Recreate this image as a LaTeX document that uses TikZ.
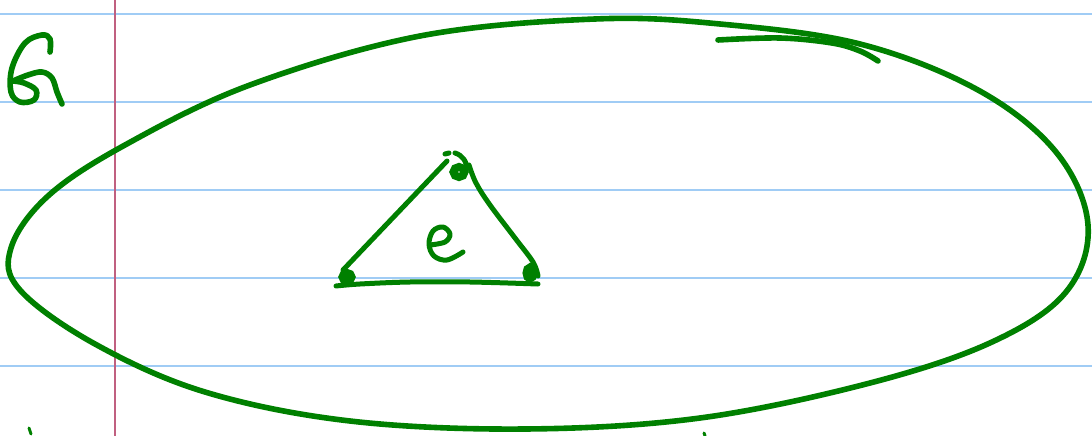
\documentclass[tikz,border=0pt]{standalone}
\begin{document}
\begin{tikzpicture}[x=1pt,y=-1pt,
  ink/.style={draw=inkgreen,line width=5.6pt,line cap=round,line join=round},
  thin ink/.style={draw=inkgreen,line width=5pt,line cap=round,line join=round},
  blob/.style={draw=inkgreen,line width=8pt},
  rule/.style={draw=ruleblue,line width=1.8pt},
  margin/.style={draw=marginred,line width=1.5pt}]
\definecolor{inkgreen}{RGB}{0,128,0}
\definecolor{ruleblue}{RGB}{160,204,245}
\definecolor{marginred}{RGB}{192,96,128}
\useasboundingbox[fill=white] (0,0) rectangle (1092,436);
% ruled lines
\foreach \yy in {14,102,190,278,366} \draw[rule] (0,\yy) -- (1092,\yy);
\draw[margin] (115,0) -- (115,436);
% big closed curve
\draw[ink] plot[smooth cycle,tension=0.6] coordinates {
 (595,19) (720,24) (860,44) (978,90) (1056,152) (1088,225) (1066,292)
 (992,342) (870,383) (700,418) (525,429) (350,421) (205,392) (95,344)
 (20,290) (11,248) (48,196) (125,145) (250,85) (420,36)};
% arrow hook
\draw[ink] plot[smooth,tension=0.6] coordinates {(718,40) (780,38) (832,43) (860,51) (878,61)};
% letter G
\draw[ink] plot[smooth,tension=0.6] coordinates {(50,52) (50,39) (42,35) (25,43) (12,68) (11,92) (20,102) (34,100) (36,90) (24,83) (13,81)};
\draw[ink] plot[smooth,tension=0.6] coordinates {(13,81) (28,75) (42,72) (52,78) (57,92) (62,104)};
% triangle
\coordinate (t) at (459,172);
\coordinate (l) at (347,277);
\coordinate (r) at (530,273);
\draw[blob] (t) circle[x radius=5.5pt,y radius=5pt];
\draw[blob] (l) circle[x radius=4.5pt,y radius=4pt];
\draw[blob] (r) circle[x radius=3.5pt,y radius=5.5pt];
\draw[thin ink] (447,161) -- (343,270);
\draw[thin ink] plot[smooth,tension=0.6] coordinates {(469,165) (476,183) (490,205) (515,238) (533,262) (538,276)};
\draw[thin ink] plot[smooth,tension=0.6] coordinates {(336,286) (360,284) (410,282) (470,282) (538,284)};
\draw[thin ink] (445,154) -- (449,153);
\draw[thin ink] (455,153) .. controls (462,155) and (468,162) .. (466,170);
% letter e
\draw[thin ink] plot[smooth,tension=0.6] coordinates {(430,245) (445,242) (450,234) (443,227) (433,231) (429,244) (434,256) (447,260) (463,252)};
% partial marks at bottom edge
\draw[inkgreen,line width=3pt,line cap=round] (29,428) -- (31,434);
\draw[inkgreen,line width=3pt,line cap=round] (704,433) -- (705,436);
\end{tikzpicture}
\end{document}
